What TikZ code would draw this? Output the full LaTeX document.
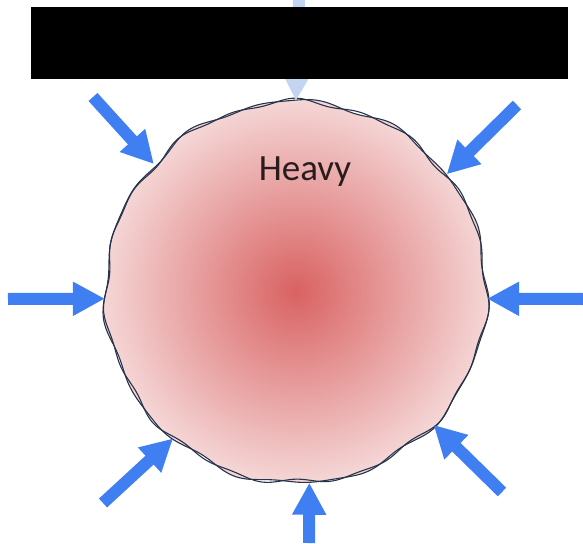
\documentclass[tikz,border=0pt]{standalone}
\usepackage{fontspec}
\setmainfont{Carlito}
\usetikzlibrary{arrows.meta}
\definecolor{heavyBlue}{HTML}{3F7FF2}
\definecolor{heavyBlueFaint}{HTML}{C4D5F2}
\definecolor{heavyCore}{HTML}{D96262}
\definecolor{heavyRim}{HTML}{F5D6D6}
\definecolor{heavyEdge}{HTML}{26334A}
\definecolor{heavyInk}{HTML}{2A1C1C}
\pgfdeclareradialshading{heavyglow}{\pgfpoint{0bp}{0bp}}{color(0bp)=(heavyCore); color(25bp)=(heavyRim); color(50bp)=(heavyRim)}
\tikzset{
  push/.style={-{Triangle[width=32pt,length=32pt]}, line width=12pt, draw=heavyBlue},
  ball/.style={circle, minimum size=382pt, inner sep=0pt},
  rim/.style={draw=heavyEdge, line width=1.1pt},
  mask/.style={fill=black, minimum width=537pt, minimum height=72pt, inner sep=0pt}
}

\begin{document}
\begin{tikzpicture}[x=1pt,y=-1pt]
  \useasboundingbox (0,0) rectangle (583,543);
  \node[ball] (ball) at (296,292) {};
  % body with a slightly wobbly rim
  \shade[shading=heavyglow, shift={(ball.center)}]
    plot[domain=0:358, samples=180, smooth cycle] (\x:{191+2*sin(11*\x)+1.4*sin(17*\x+40)});
  \draw[rim, shift={(ball.center)}]
    plot[domain=0:358, samples=180, smooth cycle] (\x:{191+2*sin(11*\x)+1.4*sin(17*\x+40)});
  \draw[rim, shift={(ball.center)}]
    plot[domain=0:358, samples=180, smooth cycle] (\x:{190.5+1.8*sin(11*\x+12)+1.6*sin(19*\x)});
  % pushes from outside
  \coordinate (pn) at (299,0);
  \coordinate (pw) at (8,299);
  \coordinate (pe) at (583,299);
  \coordinate (ps) at (309,543);
  \coordinate (pnw) at (93,97);
  \coordinate (pne) at (517,105);
  \coordinate (psw) at (103,503);
  \coordinate (pse) at (502,492);
  \draw[push, draw=heavyBlueFaint] (pn) -- (ball.90);
  \draw[push] (pw) -- (ball.182);
  \draw[push] (pe) -- (ball.358);
  \draw[push] (ps) -- (ball.274);
  \draw[push] (pnw) -- (ball.138);
  \draw[push] (pne) -- (ball.38);
  \draw[push] (psw) -- (ball.230);
  \draw[push] (pse) -- (ball.316);
  \node[mask] (cover) at (299.5,43) {};
  \node[font=\fontsize{37}{40}\selectfont, text=heavyInk, anchor=base] (heavy) at (305,180) {Heavy};
\end{tikzpicture}
\end{document}
